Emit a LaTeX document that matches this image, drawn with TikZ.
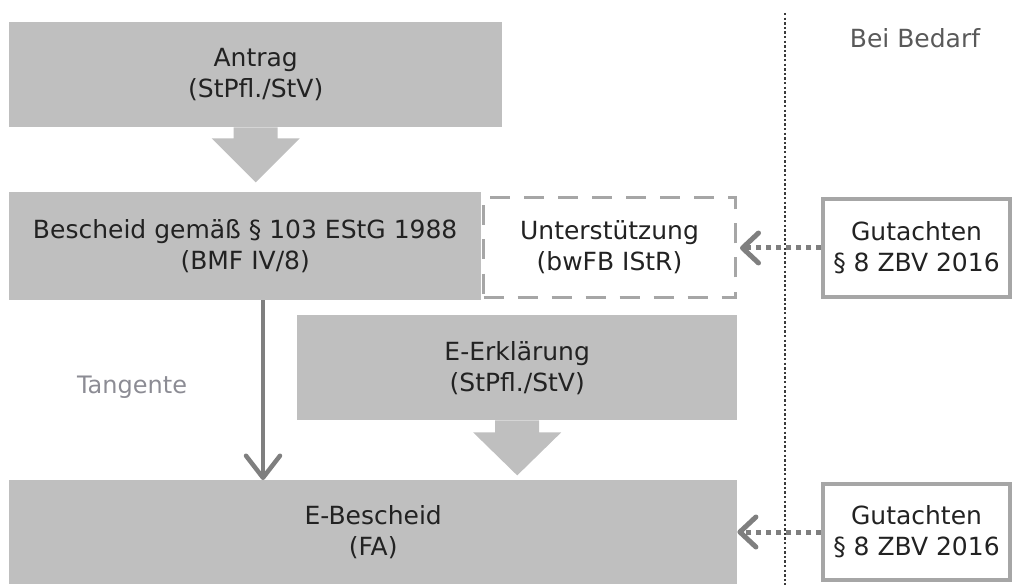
\documentclass[tikz,border=0pt]{standalone}
\usepackage{fontspec}
\setmainfont{DejaVu Sans}
\usetikzlibrary{arrows.meta}
\definecolor{boxgray}{HTML}{BFBFBF}
\definecolor{txtdark}{HTML}{222222}
\definecolor{bordergray}{HTML}{A6A6A6}
\definecolor{arrowgray}{HTML}{7F7F7F}
\definecolor{tangray}{HTML}{8C8C94}
\definecolor{sepgray}{HTML}{3A3A3A}
\definecolor{labgray}{HTML}{595959}
\tikzset{
  txt/.style={text=txtdark, align=center, font=\fontsize{25}{31}\selectfont},
  graybox/.style={txt, fill=boxgray, inner sep=0pt, anchor=north west},
  dashbox/.style={txt, draw=bordergray, line width=3pt, dash pattern=on 20pt off 14pt, inner sep=0pt, anchor=north west},
  framebox/.style={txt, draw=bordergray, line width=4pt, inner sep=0pt, anchor=north west},
  blockarrow/.style={fill=boxgray},
  tangarrow/.style={draw=arrowgray, line width=4.5pt, -{Straight Barb[length=22pt,width=34pt,line cap=round,line join=round]}},
  dotarrow/.style={draw=arrowgray, line width=5pt, dash pattern=on 5pt off 5pt, -{Straight Barb[length=16pt,width=30pt,line cap=round,line join=round]}},
  sepline/.style={draw=sepgray, line width=2.8pt, dash pattern=on 2.4pt off 2.2pt},
}
\begin{document}
\begin{tikzpicture}[x=1pt,y=-1pt]
\useasboundingbox (0,0) rectangle (1014,585);
% separator
\coordinate (septop) at (785,13);
\coordinate (sepbot) at (785,585);
\draw[sepline] (septop) -- (sepbot);
\node[font=\fontsize{25}{31}\selectfont, text=labgray] (bedarf) at (915,38) {Bei Bedarf};

% main boxes
\node[graybox, minimum width=493pt, minimum height=105pt] (antrag) at (9,22) {Antrag\\(StPfl./StV)};
\node[dashbox, minimum width=252pt, minimum height=100pt] (unter) at (482,196) {Unterstützung\\(bwFB IStR)};
\node[graybox, minimum width=472pt, minimum height=108pt] (bescheid) at (9,192) {Bescheid gemäß § 103 EStG 1988\\(BMF IV/8)};
\node[graybox, minimum width=440pt, minimum height=105pt] (erkl) at (297,315) {E-Erklärung\\(StPfl./StV)};
\node[graybox, minimum width=728pt, minimum height=104pt] (ebescheid) at (9,480) {E-Bescheid\\(FA)};

% right boxes
\node[framebox, minimum width=187pt, minimum height=98pt] (gut1) at (821,197) {Gutachten\\§ 8 ZBV 2016};
\node[framebox, minimum width=187pt, minimum height=96pt] (gut2) at (821,482) {Gutachten\\§ 8 ZBV 2016};

% block arrows
\fill[blockarrow] ([xshift=-22pt]antrag.south) -- ++(0,11) -- ++(-22,0) -- ([yshift=-55pt]antrag.south) -- ([xshift=44pt,yshift=-11pt]antrag.south) -- ++(-22,0) -- ([xshift=22pt]antrag.south) -- cycle;
\fill[blockarrow] ([xshift=-22pt]erkl.south) -- ++(0,12) -- ++(-22,0) -- ([yshift=-55pt]erkl.south) -- ([xshift=44pt,yshift=-12pt]erkl.south) -- ++(-22,0) -- ([xshift=22pt]erkl.south) -- cycle;

% Tangente
\coordinate (tx) at (263,0);
\draw[tangarrow] (bescheid.south -| tx) -- (ebescheid.north -| tx);
\node[font=\fontsize{24}{30}\selectfont, text=tangray] (tang) at (132,387) {Tangente};

% dotted arrows
\draw[dotarrow] (gut1.west) -- ([xshift=3pt]unter.east |- gut1.west);
\draw[dotarrow] (gut2.west) -- (ebescheid.east |- gut2.west);
\end{tikzpicture}
\end{document}
